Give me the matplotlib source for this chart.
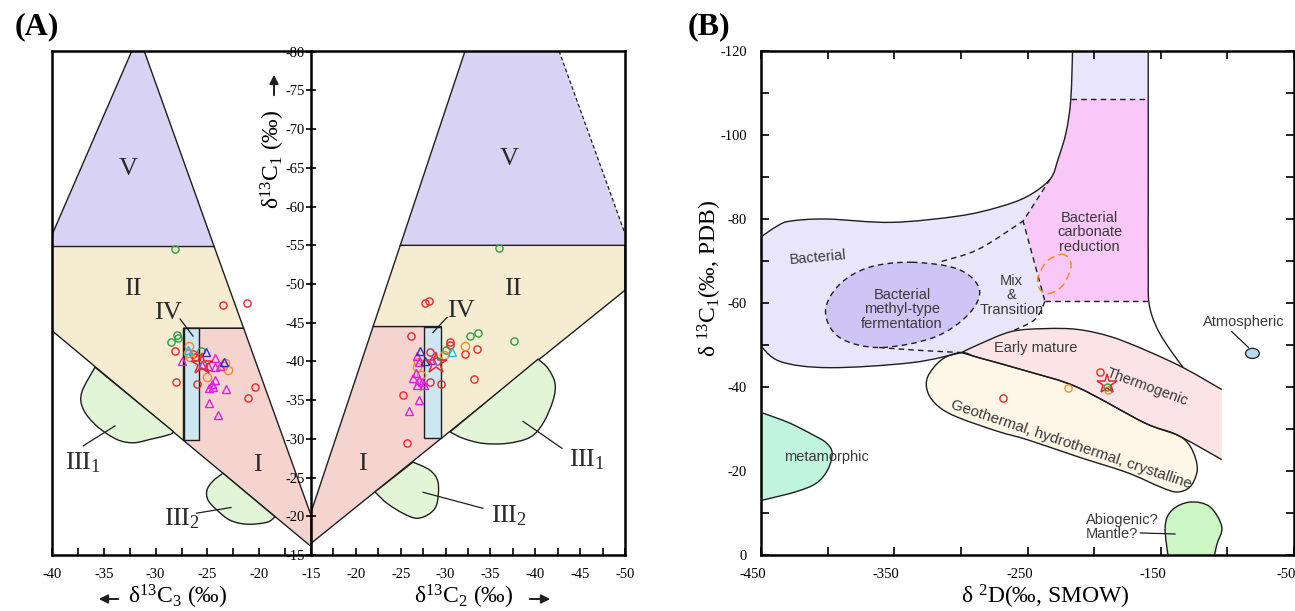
import numpy as np
import matplotlib
matplotlib.use("Agg")
import matplotlib.pyplot as plt
from matplotlib.path import Path
from matplotlib.patches import PathPatch, Polygon, Ellipse, Rectangle
from matplotlib.transforms import ScaledTranslation

plt.rcParams["font.family"] = ["Liberation Serif", "DejaVu Serif"]
plt.rcParams["mathtext.fontset"] = "custom"
plt.rcParams["mathtext.rm"] = "Liberation Serif"
plt.rcParams["mathtext.it"] = "Liberation Serif:italic"
plt.rcParams["mathtext.bf"] = "Liberation Serif:bold"
plt.rcParams["axes.unicode_minus"] = False

# ---------------- (A) field outlines, (d13C3 | d13C2, d13C1) permil ----------------
V_C3 = [(-32.3, -80.1), (-31.1, -80.1), (-24.35, -55), (-40, -55), (-40, -56.5)]
II_C3 = [(-40, -55), (-24.35, -55), (-21.5, -44.5), (-27.3, -44.5), (-27.3, -30.1), (-40, -44.2)]
I_C3 = [(-27.3, -44.5), (-21.5, -44.5), (-15, -20.5), (-15, -16.5), (-27.3, -30.1)]
IV_C3 = (-27.3, -25.8, -44.5, -30.1)
III1_C3 = [(-35.85, -39.5), (-37.13, -36.27), (-36.98, -34.11), (-35.69, -31.97), (-33.75, -30.24),
           (-32.15, -29.81), (-30.54, -30.24), (-28.61, -30.88), (-28.29, -31.25)]
III2_C3 = [(-23.5, -25.9), (-24.46, -24.9), (-25.04, -23.74), (-24.94, -22.45), (-24.07, -21.16),
           (-22.82, -19.87), (-21.18, -19.35), (-19.25, -19.6), (-18.47, -20.3)]

V_C2 = [(-32.17, -80.1), (-42.65, -80.1), (-50, -56.5), (-50, -55), (-24.95, -55)]
II_C2 = [(-24.95, -55), (-50, -55), (-50, -49.2), (-29.5, -30.05), (-29.5, -44.5), (-21.92, -44.5)]
I_C2 = [(-21.92, -44.5), (-29.5, -44.5), (-29.5, -30.05), (-15, -16.5), (-15, -20.5)]
IV_C2 = (-27.6, -29.5, -44.5, -30.05)
III1_C2 = [(-40.31, -40.3), (-41.42, -39.1), (-42.2, -37.17), (-41.98, -34.97), (-40.86, -32.0),
           (-39.41, -30.2), (-36.85, -29.42), (-34.17, -29.42), (-31.95, -30.07), (-30.5, -30.9)]
III2_C2 = [(-26.37, -27.0), (-28.27, -25.94), (-29.16, -24.39), (-29.05, -21.68), (-28.27, -20.38),
           (-26.82, -19.74), (-25.26, -20.38), (-23.47, -21.68), (-22.13, -23.15)]

# samples, (d13C3, d13C1)
red_c3 = [(-23.5, -47.5), (-21.2, -47.8), (-28.1, -41.6), (-28.0, -37.6), (-26.0, -37.3),
          (-26.4, -41.2), (-26.2, -40.8), (-20.4, -37.0), (-21.1, -35.6)]
green_c3 = [(-28.1, -54.7), (-27.9, -43.7), (-27.8, -43.3), (-28.5, -42.7), (-25.6, -41.6), (-25.4, -39.8)]
orange_c3 = [(-26.8, -42.2), (-26.9, -41.3), (-26.7, -40.8), (-23.3, -40.1), (-23.5, -39.6),
             (-23.0, -39.2), (-25.0, -38.3)]
magenta_c3 = [(-27.5, -40.3), (-24.3, -40.7), (-25.5, -39.8), (-24.9, -39.7), (-24.3, -39.5),
              (-23.8, -39.7), (-24.3, -37.9), (-24.6, -37.3), (-24.8, -36.9), (-24.5, -37.0),
              (-23.2, -36.7), (-24.8, -34.9), (-24.0, -33.4)]
blue_c3 = [(-25.1, -41.4), (-23.4, -40.2)]
cyan_c3 = [(-26.9, -41.7)]
star_c3 = [(-25.5, -39.9)]

# samples, (d13C2, d13C1)
red_c2 = [(-27.7, -47.5), (-28.1, -47.8), (-26.1, -43.3), (-28.3, -41.2), (-30.5, -42.5), (-30.5, -42.1),
          (-32.2, -41.0), (-33.5, -41.6), (-33.2, -37.7), (-28.3, -37.3), (-29.5, -37.1), (-25.3, -35.7),
          (-25.7, -29.5)]
green_c2 = [(-35.9, -54.7), (-32.7, -43.3), (-33.6, -43.7), (-37.6, -42.6), (-30.1, -41.5), (-29.0, -40.1)]
orange_c2 = [(-32.2, -42.0), (-29.8, -40.8), (-26.8, -39.3), (-27.3, -38.3), (-26.9, -39.9)]
magenta_c2 = [(-26.8, -40.7), (-28.5, -40.2), (-27.0, -39.9), (-26.7, -38.5), (-26.4, -37.8),
              (-27.0, -37.6), (-27.4, -37.3), (-27.6, -37.0), (-26.8, -36.9), (-27.0, -35.0),
              (-25.9, -33.6)]
blue_c2 = [(-27.2, -41.4), (-27.7, -40.1)]
cyan_c2 = [(-30.7, -41.2)]
star_c2 = [(-28.9, -39.8)]

# ---------------- (B) fields, (dD, d13C1) permil ----------------
B_OUTER = [(-452, -75.3), (-438, -78.3), (-428, -79.5), (-401, -80.0), (-352, -79.2), (-302, -80.7),
           (-272, -82.8), (-250, -85.4), (-233, -89.5), (-227, -94.3), (-221, -100.7), (-217.5, -108.6),
           (-216, -122)]
B_BACT_LOWER = [(-299.5, -48.2), (-336.7, -45.8), (-398.6, -44.6), (-435.8, -46.1), (-452, -50.5)]
B_CARB_LEFT = [(-233, -89.5), (-253.3, -79.5), (-236.9, -60.4)]
B_MIX_LOWER = [(-236.9, -60.4), (-244.3, -56.1), (-262.2, -53.2)]
B_MIX_DIVIDER = [(-314.4, -69.9), (-286.8, -72.8), (-253.3, -79.5)]
B_METHYL = [(-336.7, -69.7), (-301.7, -68.0), (-286.1, -63.2), (-294.3, -57.3), (-320.3, -51.8),
            (-361.3, -49.4), (-391.1, -51.8), (-401.6, -58.0), (-391.1, -64.4), (-368.8, -68.5)]
B_METHYL_TAIL = [(-361.3, -49.4), (-330, -48.7), (-299.5, -48.2)]
B_CARB_TOP, B_CARB_BOTTOM, B_BAND_X = -108.6, -60.4, -159.4
B_BAND_RIGHT = [(-159.4, -122), (-159.4, -90), (-159.4, -66), (-159.0, -60.5), (-156.4, -56.8),
                (-151.2, -53.0), (-143.0, -48.9), (-133.1, -44.6)]
B_THERMO_TOP = [(-299.5, -48.2), (-286.8, -50.1), (-262.2, -53.2), (-236.9, -53.9), (-212.3, -53.7),
                (-187.7, -52.0), (-162.4, -48.9), (-133.1, -44.6), (-104.2, -39.4)]
B_THERMO_BOTTOM = [(-299.5, -48.2), (-286.8, -47.0), (-249.6, -43.7), (-212.3, -39.9), (-162.4, -31.5),
                   (-137.8, -28.6), (-104.2, -22.7)]
B_GEO = [(-299.5, -48.2), (-286.8, -47.0), (-249.6, -43.7), (-212.3, -39.9), (-162.4, -31.5),
         (-137.8, -28.6), (-128.8, -26.3), (-123.6, -22.7), (-122.9, -19.6), (-128.1, -16.2),
         (-137.8, -15.0), (-150.4, -16.2), (-175.0, -19.6), (-212.3, -23.4), (-249.6, -27.4),
         (-271.9, -29.4), (-301.7, -32.7), (-316.6, -35.3), (-324.8, -38.7), (-324.8, -42.5),
         (-314.0, -46.6)]
B_META = [(-452, -34.0), (-448.7, -33.8), (-428.4, -31.4), (-411.0, -28.6), (-401.0, -26.7),
          (-396.6, -24.3), (-399.9, -20.3), (-408.5, -17.1), (-423.4, -15.1), (-448.3, -13.1), (-452, -12.9)]
B_ABIO = [(-144, 1.5), (-146.7, -6.7), (-141.5, -10.7), (-128.1, -12.6), (-113.2, -11.5),
          (-104.2, -6.7), (-108.0, -2.4), (-110.5, 1.5)]
B_ORANGE_RING = [(-225.0, -71.6), (-219.0, -70.6), (-217.5, -68.3), (-223.5, -64.2), (-233.2, -62.3),
                 (-240.6, -63.2), (-242.1, -66.1), (-235.4, -69.9)]
B_ATMOS = (-81.2, -48.0)

red_b = [(-268.2, -37.5), (-195.4, -43.5)]
orange_b = [(-219.7, -39.8), (-189.6, -39.3)]
green_b = [(-190.4, -40.0)]
star_b = [(-190.4, -40.6)]

INK = "#1e1e1e"
GRAY = "#3a3a3a"


def catmull(verts, codes, p):
    n = len(p)
    for i in range(n - 1):
        a, b, c, d = p[max(i - 1, 0)], p[i], p[i + 1], p[min(i + 2, n - 1)]
        verts += [b + (c - a) / 6, c - (d - b) / 6, c]
        codes += [Path.CURVE4] * 3


def make_path(pieces, close=True):
    verts, codes = [], []
    for pts, smooth in pieces:
        p = np.asarray(pts, float)
        verts.append(p[0])
        codes.append(Path.LINETO if codes else Path.MOVETO)
        if smooth and len(p) > 2:
            catmull(verts, codes, p)
        else:
            for q in p[1:]:
                verts.append(q)
                codes.append(Path.LINETO)
    if close:
        verts.append(verts[0])
        codes.append(Path.CLOSEPOLY)
    return Path(np.array(verts), codes)


def loop_path(pts):
    p = np.asarray(pts, float)
    n = len(p)
    verts, codes = [p[0]], [Path.MOVETO]
    for i in range(n):
        a, b, c, d = p[(i - 1) % n], p[i], p[(i + 1) % n], p[(i + 2) % n]
        verts += [b + (c - a) / 6, c - (d - b) / 6, c]
        codes += [Path.CURVE4] * 3
    verts.append(p[0])
    codes.append(Path.CLOSEPOLY)
    return Path(np.array(verts), codes)


def fill(ax, path, color, z=1):
    ax.add_patch(PathPatch(path, fc=color, ec="none", zorder=z))


def edge(ax, path, ls="-", color=INK, lw=1.0, z=3):
    ax.add_patch(PathPatch(path, fill=False, ec=color, ls=ls, lw=lw, zorder=z))


def scatter(ax, pts, marker, color, ms, mew=1.0, z=5):
    x, y = zip(*pts)
    ax.plot(x, y, ls="none", marker=marker, ms=ms, mfc="none", mec=color, mew=mew, zorder=z)


fig = plt.figure(figsize=(12.95, 6.11), dpi=100)
W, H = 1295, 611


def box(x0, x1, y0, y1):
    return [x0 / W, 1 - y1 / H, (x1 - x0) / W, (y1 - y0) / H]


def arrow(x0, y0, x1, y1):
    # figure-pixel arrow, y measured from the top like the reference
    fig.add_artist(matplotlib.patches.FancyArrowPatch(
        (x0 / W, 1 - y0 / H), (x1 / W, 1 - y1 / H), transform=fig.transFigure,
        arrowstyle="-|>", mutation_scale=13, lw=1.4, color=INK))


ax_l = fig.add_axes(box(52, 311, 51, 555))
ax_r = fig.add_axes(box(311, 625, 51, 555))
ax_b = fig.add_axes(box(761, 1294, 51, 555))

# ---------------- panel A ----------------
C_V, C_II, C_I, C_IV, C_III = "#D8D2F4", "#F5ECD2", "#F5D4D0", "#CCE6F2", "#E2F5D6"
for ax, V, II, I, IV, III1, III2 in ((ax_l, V_C3, II_C3, I_C3, IV_C3, III1_C3, III2_C3),
                                     (ax_r, V_C2, II_C2, I_C2, IV_C2, III1_C2, III2_C2)):
    ax.add_patch(Polygon(V, closed=True, fc=C_V, ec="none", zorder=1))
    ax.add_patch(Polygon(II, closed=True, fc=C_II, ec=INK, lw=1.0, zorder=1))
    ax.add_patch(Polygon(I, closed=True, fc=C_I, ec=INK, lw=1.0, zorder=1))
    x0, x1, y0, y1 = IV
    ax.add_patch(Rectangle((min(x0, x1), y0), abs(x1 - x0), y1 - y0, fc=C_IV, ec=INK, lw=1.0, zorder=2))
    for blob in (III1, III2):
        pth = make_path([(blob, True)])
        ax.add_patch(PathPatch(pth, fc=C_III, ec=INK, lw=1.0, zorder=1))

# V outlines (right-hand outer edge is dashed)
ax_l.plot([V_C3[0][0], V_C3[4][0]], [V_C3[0][1], V_C3[4][1]], color=INK, lw=1.0, zorder=3)
ax_l.plot([V_C3[1][0], V_C3[2][0]], [V_C3[1][1], V_C3[2][1]], color=INK, lw=1.0, zorder=3)
ax_r.plot([V_C2[0][0], V_C2[4][0]], [V_C2[0][1], V_C2[4][1]], color=INK, lw=1.0, zorder=3)
ax_r.plot([V_C2[1][0], V_C2[2][0]], [V_C2[1][1], V_C2[2][1]], color=INK, lw=0.9, ls=(0, (3, 2)), zorder=3)

series_c3 = [(red_c3, "o", "#E8262B", 5.2), (green_c3, "o", "#2E9E44", 5.2), (orange_c3, "o", "#F28C28", 6.0),
             (magenta_c3, "^", "#E020E0", 6.0), (blue_c3, "^", "#1F2FD0", 6.0), (cyan_c3, "^", "#29B6E8", 5.5)]
series_c2 = [(red_c2, "o", "#E8262B", 5.2), (green_c2, "o", "#2E9E44", 5.2), (orange_c2, "o", "#F28C28", 6.0),
             (magenta_c2, "^", "#E020E0", 6.0), (blue_c2, "^", "#1F2FD0", 6.0), (cyan_c2, "^", "#29B6E8", 5.5)]
for ax, series, star in ((ax_l, series_c3, star_c3), (ax_r, series_c2, star_c2)):
    for pts, mk, col, ms in series:
        scatter(ax, pts, mk, col, ms)
    scatter(ax, star, "*", "#E8262B", 16, mew=1.1, z=6)

roman = dict(fontsize=19, color="#2a2a2a", ha="center", va="center", zorder=7)
ax_l.text(-32.66, -64.9, "V", **roman)
ax_l.text(-32.18, -49.6, "II", **roman)
ax_l.text(-28.8, -46.5, "IV", **roman)
ax_l.text(-20.2, -27.0, "I", **roman)
ax_l.text(-37.0, -27.3, "III$_1$", **roman)
ax_l.text(-27.5, -20.1, "III$_2$", **roman)
ax_l.plot([-27.64, -26.39], [-45.7, -43.5], color=INK, lw=0.9, zorder=7)
ax_l.plot([-36.98, -33.92], [-29.42, -31.97], color=INK, lw=0.9, zorder=7)
ax_l.plot([-26.03, -22.72], [-20.77, -21.5], color=INK, lw=0.9, zorder=7)

ax_r.text(-37.07, -66.2, "V", **roman)
ax_r.text(-37.52, -49.4, "II", **roman)
ax_r.text(-31.72, -46.5, "IV", **roman)
ax_r.text(-20.69, -26.8, "I", **roman)
ax_r.text(-45.7, -27.3, "III$_1$", **roman)
ax_r.text(-37.0, -20.1, "III$_2$", **roman)
ax_r.plot([-30.16, -28.6], [-45.7, -43.75], color=INK, lw=0.9, zorder=7)
ax_r.plot([-38.63, -42.98], [-32.26, -28.78], color=INK, lw=0.9, zorder=7)
ax_r.plot([-34.17, -27.49], [-21.03, -23.1], color=INK, lw=0.9, zorder=7)

for ax in (ax_l, ax_r):
    ax.set_ylim(-15.4, -80.1)
    for s in ax.spines.values():
        s.set_linewidth(1.8)
        s.set_zorder(8)
ax_l.set_xlim(-40, -15)
ax_r.set_xlim(-15, -50)
ax_l.spines["right"].set_visible(False)
ax_l.set_yticks([])
ax_l.set_xticks([-40, -35, -30, -25, -20])
ax_l.set_xticks([-37.5, -32.5, -27.5, -22.5, -17.5], minor=True)
ax_r.set_xticks(list(range(-15, -51, -5)))
ax_r.set_xticks([-17.5, -22.5, -27.5, -32.5, -37.5, -42.5, -47.5], minor=True)
ax_r.set_yticks(list(range(-80, -14, 5)))
for ax in (ax_l, ax_r):
    ax.tick_params(axis="x", which="both", direction="in", length=5, width=1.2, labelsize=10.5, pad=9)
ax_r.tick_params(axis="y", direction="inout", length=7, width=1.2, labelsize=10.5, pad=1)

fig.text(178 / W, 1 - 597 / H, "\u03b4$^{13}$C$_3$ (\u2030)", fontsize=17, ha="center", va="center")
arrow(121, 599, 96, 599)
fig.text(464 / W, 1 - 597 / H, "\u03b4$^{13}$C$_2$ (\u2030)", fontsize=17, ha="center", va="center")
arrow(527, 599, 553, 599)
fig.text(273 / W, 1 - 159 / H, "\u03b4$^{13}$C$_1$ (\u2030)", fontsize=17, ha="center", va="center",
         rotation=90)
arrow(274, 98, 274, 72)
fig.text(37 / W, 1 - 27 / H, "(A)", fontsize=23, fontweight="bold", ha="center", va="center")
fig.text(709 / W, 1 - 27 / H, "(B)", fontsize=23, fontweight="bold", ha="center", va="center")

# ---------------- panel B ----------------
fill(ax_b, make_path([(B_OUTER[:9], True), (B_CARB_LEFT, False), (B_MIX_LOWER, True),
                      (B_THERMO_TOP[:3][::-1], True), (B_BACT_LOWER, True)]), "#E9E5FA")
fill(ax_b, make_path([([(B_BAND_X, -122), (-216, -122), (-217.5, B_CARB_TOP), (B_BAND_X, B_CARB_TOP)], False)]),
     "#E9E5FA")
fill(ax_b, make_path([([(B_BAND_X, B_CARB_TOP), (-217.5, B_CARB_TOP)], False), (B_OUTER[8:12][::-1], True),
                      (B_CARB_LEFT, False), ([(-236.9, B_CARB_BOTTOM), (B_BAND_X, B_CARB_BOTTOM)], False)]),
     "#F9C8F9")
fill(ax_b, loop_path(B_METHYL), "#CEC4F5", z=2)
fill(ax_b, make_path([(B_THERMO_TOP, True), ([(-104.2, -39.4), (-104.2, -22.7)], False),
                      (B_THERMO_BOTTOM[::-1], True)]), "#FCE4E6")
fill(ax_b, loop_path(B_GEO), "#FEF7E8", z=2)
fill(ax_b, make_path([(B_META, True)]), "#C0F4DE", z=2)
fill(ax_b, make_path([(B_ABIO, True)]), "#CCF6C4", z=2)

for pts in (B_OUTER, B_BACT_LOWER, B_BAND_RIGHT, B_THERMO_TOP, B_THERMO_BOTTOM, B_META, B_ABIO):
    edge(ax_b, make_path([(pts, True)], close=False))
edge(ax_b, loop_path(B_GEO))
dash = (0, (4, 3))
edge(ax_b, make_path([(B_CARB_LEFT, False)], close=False), ls=dash)
for pts in (B_MIX_LOWER, B_MIX_DIVIDER, B_METHYL_TAIL):
    edge(ax_b, make_path([(pts, True)], close=False), ls=dash)
edge(ax_b, loop_path(B_METHYL), ls=dash)
edge(ax_b, make_path([([(-217.5, B_CARB_TOP), (B_BAND_X, B_CARB_TOP)], False)], close=False), ls=dash)
edge(ax_b, make_path([([(-236.9, B_CARB_BOTTOM), (B_BAND_X, B_CARB_BOTTOM)], False)], close=False), ls=dash)
edge(ax_b, loop_path(B_ORANGE_RING), ls=(0, (5, 3)), color="#F28C28", lw=1.1)
ax_b.add_patch(Ellipse(B_ATMOS, 10.4, 2.4, fc="#B8D8F0", ec=INK, lw=0.9, zorder=3))
ax_b.plot([-96.8, -84.1], [-53.2, -49.4], color=INK, lw=0.9, zorder=3)
ax_b.plot([-165.4, -139.3], [-5.25, -5.0], color=INK, lw=0.9, zorder=3)

sans = dict(family=["Liberation Sans", "DejaVu Sans"], color=GRAY, fontsize=10.5, ha="center", va="center",
            zorder=4, linespacing=1.05)
ax_b.text(-407.5, -70.9, "Bacterial", rotation=5, **sans)
ax_b.text(-344.2, -58.5, "Bacterial\nmethyl-type\nfermentation", **sans)
ax_b.text(-262.2, -61.8, "Mix\n&\nTransition", **sans)
ax_b.text(-203.4, -76.8, "Bacterial\ncarbonate\nreduction", **sans)
ax_b.text(-243.6, -49.4, "Early mature", **sans)
ax_b.text(-160.1, -39.9, "Thermogenic", rotation=-20, rotation_mode="anchor", **sans)
ax_b.text(-217.5, -26.3, "Geothermal, hydrothermal, crystalline", rotation=-18.5, rotation_mode="anchor",
          **{**sans, "fontsize": 11})
ax_b.text(-400.8, -23.4, "metamorphic", **sans)
ax_b.text(-87.9, -55.4, "Atmospheric", **sans)
ax_b.text(-206.3, -6.7, "Abiogenic?\nMantle?", **{**sans, "ha": "left"})

scatter(ax_b, red_b, "o", "#E8262B", 5.2)
scatter(ax_b, orange_b, "o", "#F28C28", 5.2)
scatter(ax_b, green_b, "o", "#2E9E44", 5.0)
scatter(ax_b, star_b, "*", "#E8262B", 15, mew=1.1, z=6)

ax_b.set_xlim(-450, -50)
ax_b.set_ylim(0, -120)
ax_b.set_xticks([-450, -350, -250, -150, -50])
ax_b.set_xticks([-400, -300, -200, -100], minor=True)
ax_b.set_yticks(list(range(-120, 1, 20)))
ax_b.set_yticks(list(range(-110, 0, 20)), minor=True)
ax_b.tick_params(which="both", direction="in", top=True, right=True, length=6, width=1.2, labelsize=10.5)
ax_b.tick_params(axis="x", pad=9)
ax_b.tick_params(axis="y", pad=10)
shift = ScaledTranslation(-0.08, 0, fig.dpi_scale_trans)
for lab in ax_b.get_xticklabels():
    lab.set_transform(lab.get_transform() + shift)
for s in ax_b.spines.values():
    s.set_linewidth(1.8)
fig.text(1045 / W, 1 - 597 / H, "\u03b4 $^{2}$D(\u2030, SMOW)", fontsize=17, ha="center", va="center")
fig.text(710 / W, 1 - 278 / H, "\u03b4 $^{13}$C$_1$(\u2030, PDB)", fontsize=17, ha="center", va="center",
         rotation=90)

fig.savefig("out.png", dpi=100)
